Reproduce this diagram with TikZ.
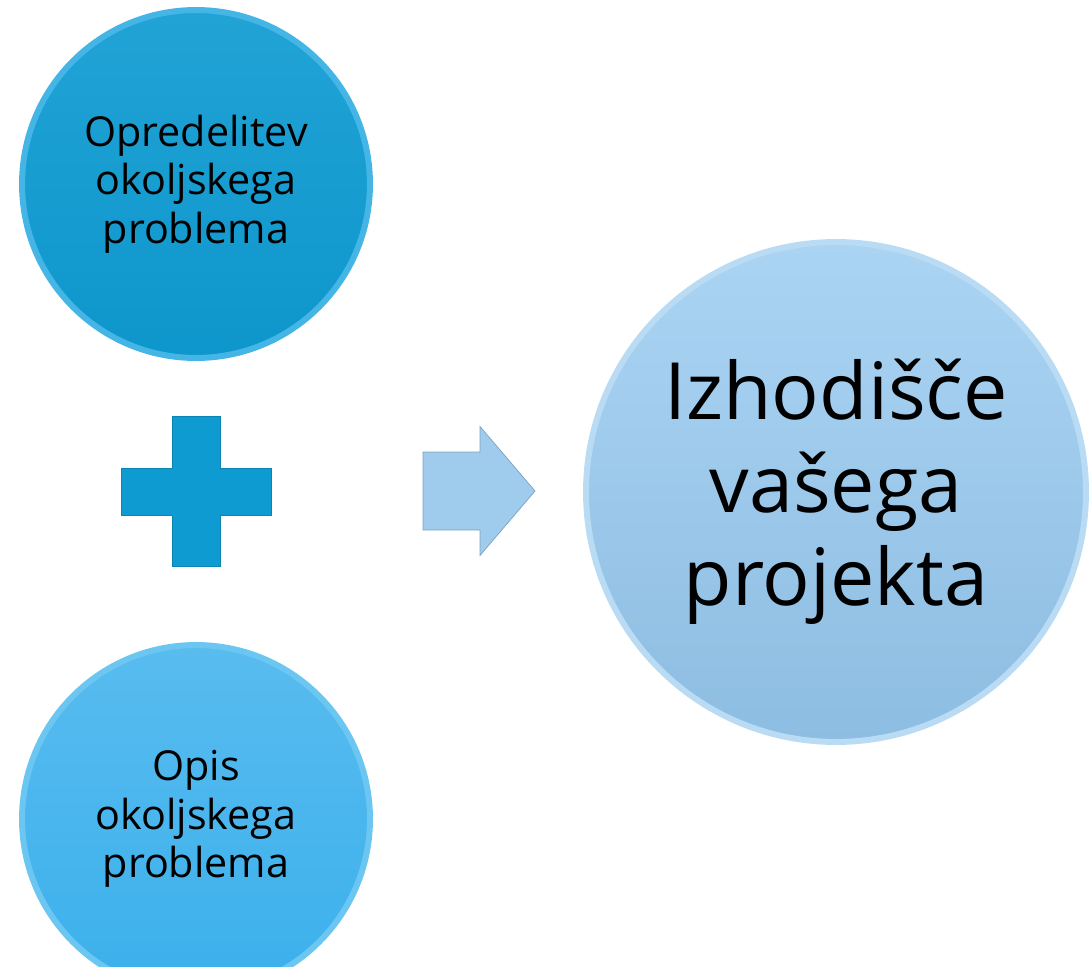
\documentclass[tikz,border=0pt]{standalone}
\usepackage{fontspec}
\setmainfont{Open Sans}

\definecolor{topblue}{HTML}{0E9BD2}
\definecolor{toprim}{HTML}{45B5E6}
\definecolor{lowblue}{HTML}{3BB0EC}
\definecolor{lowrim}{HTML}{6CC6F2}
\definecolor{paleblue}{HTML}{9FCBEC}
\definecolor{paletop}{HTML}{ABD4F3}
\definecolor{palelow}{HTML}{8DBDE2}
\definecolor{palerim}{HTML}{B9DBF4}
\definecolor{crossblue}{HTML}{0E9BD1}

\tikzset{
  ball/.style={circle, line width=1.2mm, align=center, inner sep=0pt,
    minimum size=6.96cm, text=black, font=\fontsize{23.5}{27.6}\selectfont},
  bigball/.style={ball, minimum size=10cm, font=\fontsize{45}{53}\selectfont},
}

\begin{document}
\begin{tikzpicture}[x=0.02cm, y=-0.02cm]
    \useasboundingbox (0,0) rectangle (1089,967);
    \clip (0,0) rectangle (1089,967);

    \node[ball, draw=toprim, top color=topblue!92!white, bottom color=topblue!97!black] (OP) at (196,184) {Opredelitev\\okoljskega\\problema};
    \node[ball, draw=lowrim, top color=lowblue!85!white, bottom color=lowblue] (OD) at (196,819) {Opis\\okoljskega\\problema};
    \node[bigball, draw=palerim, top color=paletop, bottom color=palelow] (IZ) at (836,492) {Izhodišče\\vašega\\projekta};

    % plus sign between the two small circles
    \coordinate (PL) at (196,491);
    \draw[fill=crossblue, draw=crossblue!85!black, line width=0.4pt]
      (PL) ++(-24,-75) -- ++(48,0) -- ++(0,52) -- ++(51,0) -- ++(0,47) -- ++(-51,0)
      -- ++(0,51) -- ++(-48,0) -- ++(0,-51) -- ++(-51,0) -- ++(0,-47) -- ++(51,0) -- cycle;

    % block arrow towards the big circle
    \coordinate (AR) at (479,491);
    \draw[fill=paleblue, draw=paleblue!80!black, line width=0.4pt]
      (AR) ++(-56,-39) -- ++(57,0) -- ++(0,-25.5) -- ++(55,64.5) -- ++(-55,64.5)
      -- ++(0,-25.5) -- ++(-57,0) -- cycle;
\end{tikzpicture}
\end{document}
